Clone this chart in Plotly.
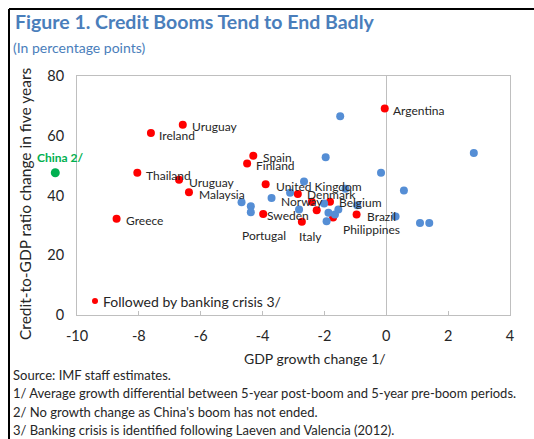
import plotly.graph_objects as go

# Credit booms followed by a banking crisis
crisis_x = [-0.05, -6.58, -7.61, -4.30, -4.50, -8.05, -6.70, -3.90, -6.38, -2.86,
            -8.72, -3.98, -2.41, -2.25, -2.73, -1.82, -1.72, -0.96]
crisis_y = [69.1, 63.7, 60.9, 53.3, 50.7, 47.6, 45.3, 43.8, 41.1, 40.5,
            32.2, 33.8, 37.9, 35.1, 31.2, 37.9, 32.6, 33.6]

# Credit booms without a crisis
other_x = [-1.49, -1.96, -0.17, 2.83, 0.57, -2.66, 0.30, 1.09, 1.39, -3.11,
           -3.71, -4.68, -4.38, -4.38, -2.82, -2.01, -1.32, -1.87, -1.66, -1.55,
           -1.93, -0.94]
other_y = [66.5, 52.8, 47.6, 54.2, 41.7, 44.7, 33.0, 30.8, 30.8, 40.9,
           39.2, 37.7, 36.4, 34.4, 35.3, 37.3, 42.3, 34.2, 33.6, 35.3,
           31.4, 36.7]

# China: boom not ended, shown left of the axis
china_x = [-10.69]
china_y = [47.6]

# labels: text, x, y (left edge of text, middle)
label_text = ["Argentina", "Uruguay", "Ireland", "Thailand", "Uruguay", "Malaysia",
              "Spain", "Finland", "United Kingdom", "Denmark", "Norway", "Belgium",
              "Sweden", "Brazil", "Philippines", "Portugal", "Italy", "Greece"]
label_x = [0.23, -6.27, -7.34, -7.77, -6.37, -6.06, -4.00, -4.21, -3.58, -2.55,
           -3.40, -1.53, -3.87, -0.63, -1.41, -4.66, -2.81, -8.42]
label_y = [68.4, 63.1, 60.0, 46.8, 44.2, 40.5, 52.8, 50.0, 43.1, 40.3,
           37.9, 37.5, 33.4, 33.0, 28.6, 26.6, 26.2, 31.7]

x_ticks = [-10, -8, -6, -4, -2, 0, 2, 4]
x_tick_text = ["-10", "-8", "-6", "-4", "-2", "0", "2", "4"]
y_ticks = [0, 20, 40, 60, 80]

footnotes = [
    "Source: IMF staff estimates.",
    "1/ Average growth differential between 5-year post-boom and 5-year pre-boom periods.",
    "2/ No growth change as China's boom has not ended.",
    "3/ Banking crisis is identified following Laeven and Valencia (2012).",
]

FONT = "Lato"
TXT = "#262626"
W, H = 534, 439
L, R, T, B = 0, 24, 76, 124
AX_LEFT = 77            # pixel of x = -10
PX_PER_UNIT = (W - R - AX_LEFT) / 14.0


def px_x(p):
    return (p - L) / (W - L - R)


def px_y(p):
    return (H - B - p) / (H - T - B)


fig = go.Figure()
fig.add_trace(go.Scatter(x=crisis_x, y=crisis_y, mode="markers",
                         marker=dict(color="#FF0000", size=8),
                         name="Followed by banking crisis 3/", showlegend=False))
fig.add_trace(go.Scatter(x=other_x, y=other_y, mode="markers",
                         marker=dict(color="#558ED5", size=8), showlegend=False))
fig.add_trace(go.Scatter(x=china_x, y=china_y, mode="markers", xaxis="x2",
                         marker=dict(color="#00B050", size=9), showlegend=False))

annotations = []
for t, x, y in zip(label_text, label_x, label_y):
    annotations.append(dict(x=x, y=y, text=t, showarrow=False, xanchor="left",
                            yanchor="middle", xshift=-2,
                            font=dict(family=FONT, size=12, color=TXT)))
annotations.append(dict(x=china_x[0], y=china_y[0], xref="x2", text="<b>China 2/</b>",
                        showarrow=False, xanchor="center", yanchor="bottom",
                        xshift=5, yshift=6,
                        font=dict(family=FONT, size=12, color="#00B050")))
annotations.append(dict(xref="paper", yref="paper", x=px_x(13), y=px_y(21),
                        text="<b>Figure 1. Credit Booms Tend to End Badly</b>",
                        showarrow=False, xanchor="left", yanchor="middle",
                        font=dict(family=FONT, size=19.5, color="#4A7EBB")))
annotations.append(dict(xref="paper", yref="paper", x=px_x(11), y=px_y(48),
                        text="(In percentage points)",
                        showarrow=False, xanchor="left", yanchor="middle",
                        font=dict(family=FONT, size=14, color="#4A7EBB")))
annotations.append(dict(xref="paper", yref="paper", x=px_x(315), y=px_y(358),
                        text="GDP growth change 1/", showarrow=False,
                        xanchor="center", yanchor="middle",
                        font=dict(family=FONT, size=14, color=TXT)))
annotations.append(dict(xref="paper", yref="paper", x=px_x(25), y=px_y(204),
                        text="Credit-to-GDP ratio change in five years", textangle=-90,
                        showarrow=False, xanchor="center", yanchor="middle",
                        font=dict(family=FONT, size=15.5, color=TXT)))
annotations.append(dict(xref="paper", yref="paper", x=px_x(101), y=px_y(301),
                        text="Followed by banking crisis 3/", showarrow=False,
                        xanchor="left", yanchor="middle",
                        font=dict(family=FONT, size=14, color=TXT)))
for i, line in enumerate(footnotes):
    annotations.append(dict(xref="paper", yref="paper", x=px_x(11), y=px_y(375 + 18.3 * i),
                            text=line, showarrow=False, xanchor="left", yanchor="middle",
                            font=dict(family=FONT, size=13, color=TXT)))

shapes = [
    # outer frame (left and top edges)
    dict(type="line", xref="paper", yref="paper", x0=px_x(9), x1=px_x(9),
         y0=px_y(9), y1=px_y(H + 5), line=dict(color="black", width=2)),
    dict(type="line", xref="paper", yref="paper", x0=px_x(9), x1=px_x(W + 5),
         y0=px_y(9), y1=px_y(9), line=dict(color="black", width=2)),
    # legend key
    dict(type="circle", xref="paper", yref="paper", x0=px_x(92), x1=px_x(98),
         y0=px_y(298), y1=px_y(304), fillcolor="#FF0000", line=dict(width=0)),
]

fig.update_layout(
    width=W, height=H,
    margin=dict(l=L, r=R, t=T, b=B, autoexpand=False),
    paper_bgcolor="white", plot_bgcolor="white",
    font=dict(family=FONT, size=14, color=TXT),
    annotations=annotations, shapes=shapes,
    showlegend=False,
    xaxis=dict(domain=[px_x(AX_LEFT), 1], range=[-10, 4], automargin=False,
               tickvals=x_ticks, ticktext=x_tick_text, showgrid=False,
               showline=True, linecolor="#BFBFBF", linewidth=1, mirror=True,
               ticks="inside", ticklen=4, tickcolor="#BFBFBF",
               ticklabelstandoff=8,
               zeroline=True, zerolinecolor="#BFBFBF", zerolinewidth=1,
               tickfont=dict(size=14.5)),
    xaxis2=dict(domain=[0, px_x(AX_LEFT) - 0.001], automargin=False,
                range=[-10 - AX_LEFT / PX_PER_UNIT, -10],
                visible=False, anchor="y"),
    yaxis=dict(range=[0, 80], tickvals=y_ticks, showgrid=False, anchor="x",
               automargin=False, ticklabelstandoff=9,
               showline=True, linecolor="#BFBFBF", linewidth=1, mirror=True,
               zeroline=False, ticks="", tickfont=dict(size=14.5)),
)

fig.write_html("out.html", config={"displayModeBar": False},
               post_script="document.body.style.margin='0px';")
